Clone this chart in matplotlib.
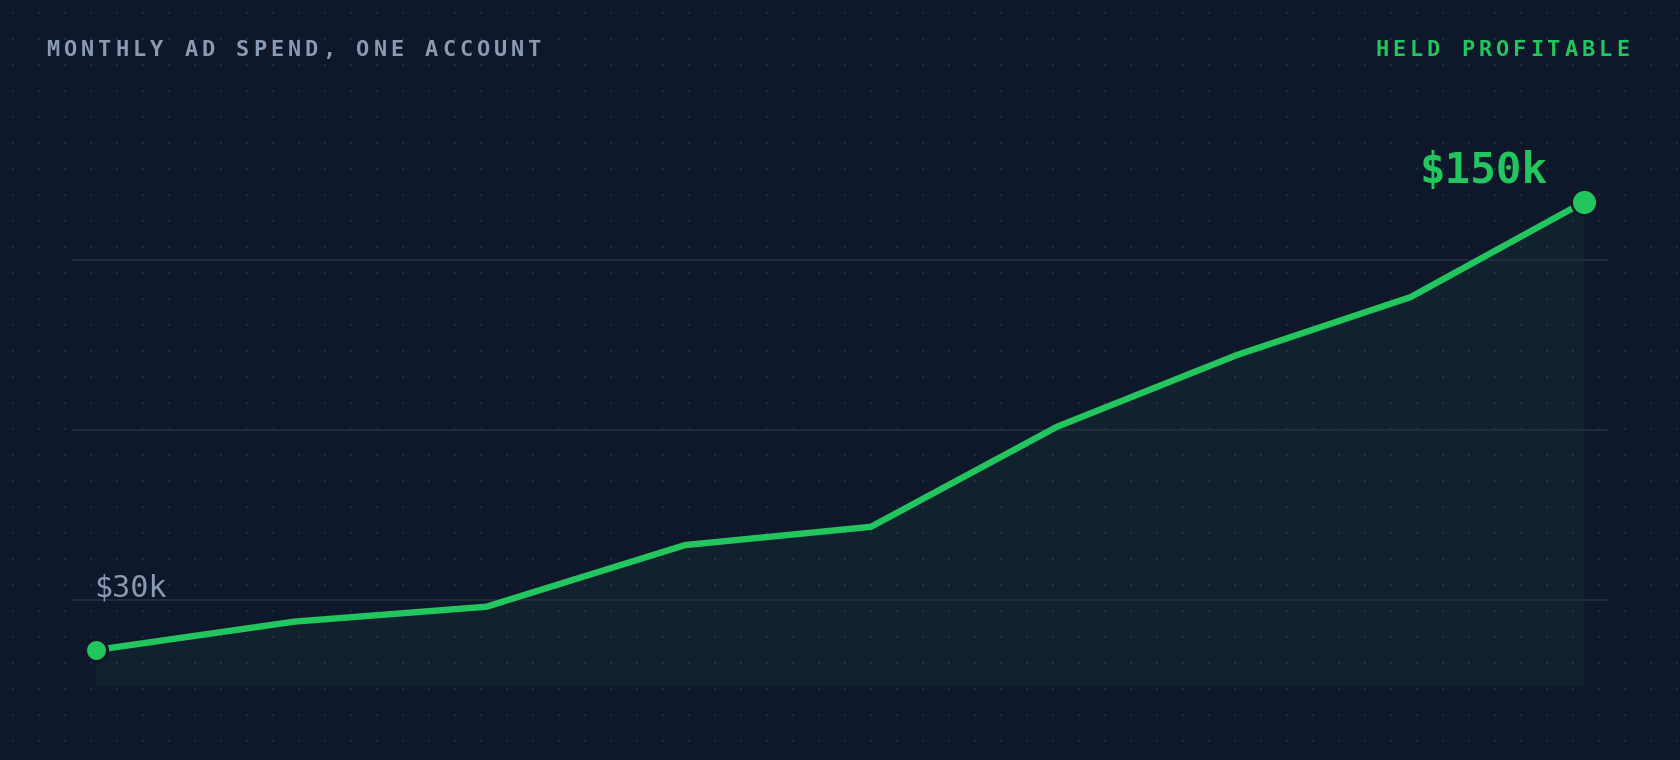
import matplotlib
matplotlib.use('Agg')
import matplotlib.pyplot as plt
import numpy as np

# data (days since start, monthly spend in $k)
days = [0, 32, 63, 95, 125, 155, 184, 212, 240]
spend = [30, 37.6, 41.6, 58.1, 63.0, 89.8, 109.0, 124.5, 150]
grid_levels = [43.4, 88.9, 134.5]
title = 'MONTHLY AD SPEND, ONE ACCOUNT'
badge = 'HELD PROFITABLE'
start_label = '$30k'
end_label = '$150k'

BG = '#0f172a'
GREEN = '#22c55e'
MUTED = '#8b9ab3'
MONO = 'DejaVu Sans Mono'

W, H = 1680, 760
fig = plt.figure(figsize=(W / 100, H / 100), dpi=100, facecolor=BG)

# dotted backdrop
bg = fig.add_axes([0, 0, 1, 1], zorder=0)
bg.set_xlim(0, W)
bg.set_ylim(H, 0)
bg.axis('off')
gx, gy = np.meshgrid(np.arange(12.5, W, 26), np.arange(12.5, H, 26))
bg.scatter(gx.ravel(), gy.ravel(), s=2.4, marker='s', color='#1f2a3c', linewidths=0)

# chart area
ax = fig.add_axes([72 / W, (H - 686) / H, 1536 / W, 586 / H], zorder=1)
ax.patch.set_alpha(0)
ax.axis('off')
ax.set_xlim(-3.871, 243.871)
ax.set_ylim(20.357, 177.32)
ylo = ax.get_ylim()[0]

ax.fill_between(days, spend, ylo, color=GREEN, alpha=0.065, linewidth=0, zorder=1)
for g in grid_levels:
    ax.axhline(g, color='#223242', lw=1.2, zorder=2)
ax.plot(days, spend, color=GREEN, lw=4.6, zorder=3, solid_capstyle='round')
ax.plot(days[0], spend[0], 'o', ms=15.8, mfc=GREEN, mec=BG, mew=2.2, zorder=4, clip_on=False)
ax.plot(days[-1], spend[-1], 'o', ms=18.4, mfc=GREEN, mec=BG, mew=1.8, zorder=4, clip_on=False)

ax.annotate(end_label, xy=(days[-1], spend[-1]), xytext=(-36, 19), textcoords='offset pixels',
            ha='right', va='baseline', fontsize=30.6, color=GREEN, family=MONO, weight='bold')
ax.annotate(start_label, xy=(days[0], spend[0]), xytext=(-2, 53), textcoords='offset pixels',
            ha='left', va='baseline', fontsize=21.7, color=MUTED, family=MONO)


def spaced(x0, baseline, text, color, pitch=17.2):
    # letter-spaced caps, one glyph at a time
    for i, ch in enumerate(text):
        fig.text((x0 + i * pitch) / W, 1 - baseline / H, ch, ha='center', va='baseline',
                 fontsize=15.8, color=color, family=MONO, weight='bold')


spaced(53.2, 56, title, MUTED)
spaced(1628 - 5.2 - 14 * 17.2, 56, badge, GREEN)

fig.savefig('out.png', dpi=100, facecolor=BG)
